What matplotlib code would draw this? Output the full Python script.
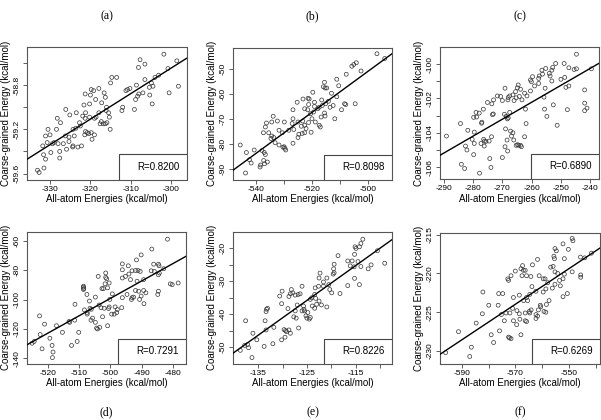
import matplotlib.pyplot as plt
import numpy as np
from matplotlib.patches import Rectangle

plt.rcParams['font.family'] = ['Liberation Sans', 'DejaVu Sans']

# (a)
a_x = [-301.8, -307.7, -298.6, -306.5, -308.1, -300.8, -314.7, -313.5, -315.0, -303.1,
       -304.0, -306.5, -308.6, -310.2, -310.8, -311.2, -304.9, -304.5, -305.4, -298.2,
       -300.5, -307.0, -308.0, -308.3, -305.3, -308.8, -304.7, -309.1, -312.0, -312.2,
       -319.8, -319.2, -317.9, -316.6, -316.3, -318.7, -321.3, -320.0, -321.6, -320.2,
       -317.2, -316.0, -316.1, -315.5, -315.3, -315.9, -315.1, -317.9, -318.6, -319.0,
       -320.2, -321.3, -321.2, -321.9, -323.5, -325.1, -326.1, -328.2, -327.4, -322.7,
       -322.5, -321.4, -320.8, -320.4, -319.8, -319.0, -319.6, -321.2, -317.3, -316.8,
       -316.3, -317.6, -324.3, -323.6, -330.5, -331.1, -330.0, -328.4, -326.2, -325.3,
       -324.0, -329.0, -328.0, -326.7, -325.3, -330.7, -329.4, -331.8, -324.3, -324.4,
       -323.1, -322.2, -325.9, -327.6, -329.8, -331.6, -331.1, -327.6, -333.1, -332.7,
       -331.5]
a_y = [-58.52, -58.57, -58.58, -58.61, -58.64, -58.65, -58.73, -58.73, -58.78, -58.71,
       -58.73, -58.75, -58.80, -58.83, -58.84, -58.85, -58.78, -58.81, -58.82, -58.81,
       -58.87, -58.87, -58.88, -58.90, -58.89, -58.93, -58.97, -59.02, -59.00, -59.03,
       -58.84, -58.85, -58.83, -58.87, -58.91, -58.93, -58.88, -58.89, -58.98, -58.97,
       -58.96, -59.00, -59.03, -59.05, -59.09, -59.14, -59.20, -59.05, -59.09, -59.10,
       -59.09, -59.10, -59.05, -59.08, -59.05, -59.07, -59.02, -59.10, -59.14, -59.14,
       -59.17, -59.25, -59.23, -59.24, -59.23, -59.25, -59.29, -59.22, -59.13, -59.15,
       -59.15, -59.15, -59.20, -59.19, -59.20, -59.26, -59.25, -59.20, -59.26, -59.27,
       -59.26, -59.32, -59.33, -59.33, -59.31, -59.32, -59.33, -59.35, -59.35, -59.36,
       -59.36, -59.35, -59.38, -59.40, -59.41, -59.43, -59.47, -59.46, -59.57, -59.59,
       -59.55]

# (b)
b_x = [-496.8, -494.0, -504.2, -505.1, -505.8, -502.5, -507.8, -511.2, -515.6, -516.0,
       -515.4, -514.8, -510.5, -513.1, -511.2, -519.8, -521.5, -521.1, -523.3, -516.6,
       -514.2, -515.2, -516.4, -517.5, -519.2, -518.0, -512.5, -513.6, -508.4, -508.0,
       -504.6, -509.5, -511.9, -515.6, -515.4, -516.8, -519.5, -520.6, -521.6, -525.4,
       -526.9, -522.7, -523.4, -525.1, -520.1, -522.7, -521.3, -518.9, -517.5, -517.1,
       -523.9, -528.4, -526.9, -527.2, -530.0, -532.5, -534.0, -534.5, -536.4, -536.8,
       -537.5, -535.6, -534.8, -533.8, -531.9, -530.7, -526.6, -523.6, -522.7, -520.4,
       -524.8, -525.1, -533.3, -531.9, -530.1, -529.8, -529.5, -526.9, -538.0, -540.8,
       -543.6, -545.8, -542.5, -541.9, -537.2, -536.8, -537.4, -537.1, -538.5, -538.7,
       -536.1, -543.9, -530.5, -534.5, -522.2, -521.3, -519.2]
b_y = [-43.9, -45.8, -47.5, -48.2, -48.9, -50.8, -52.1, -54.1, -55.3, -57.1,
       -57.6, -57.6, -56.7, -59.7, -61.1, -59.3, -61.7, -62.0, -62.0, -62.4,
       -62.9, -63.9, -64.6, -65.3, -65.0, -65.9, -64.6, -65.3, -63.9, -64.2,
       -63.9, -66.3, -69.9, -67.6, -68.8, -69.2, -67.2, -67.9, -66.3, -63.3,
       -66.3, -65.9, -70.8, -71.2, -69.9, -72.5, -71.4, -71.2, -72.5, -73.2,
       -72.9, -74.5, -69.9, -71.8, -71.2, -70.8, -68.9, -71.2, -71.6, -73.2,
       -75.5, -75.5, -77.8, -77.4, -74.5, -75.5, -74.2, -75.8, -75.5, -75.3,
       -76.1, -77.4, -79.5, -80.4, -81.1, -81.7, -82.4, -79.7, -82.6, -82.4,
       -83.4, -80.4, -86.3, -87.6, -83.4, -84.2, -86.6, -87.9, -88.4, -89.2,
       -87.2, -91.6, -81.3, -76.8, -73.8, -64.2, -63.3]

# (c)
c_x = [-244.7, -251.8, -252.8, -253.1, -255.2, -256.5, -256.3, -257.4, -257.6, -259.7,
       -260.1, -260.4, -257.6, -259.0, -260.4, -262.4, -263.8, -264.2, -264.6, -264.9,
       -265.5, -265.3, -269.1, -268.1, -268.0, -267.5, -266.4, -266.0, -261.6, -263.3,
       -262.1, -270.0, -270.6, -271.7, -273.0, -273.6, -275.1, -276.5, -279.0, -277.9,
       -278.8, -279.8, -277.0, -277.1, -273.4, -273.1, -269.3, -268.7, -268.0, -268.3,
       -267.5, -268.9, -266.4, -267.2, -266.9, -266.1, -265.3, -264.8, -263.5, -263.8,
       -264.4, -262.4, -261.9, -268.4, -269.1, -268.2, -270.0, -274.3, -273.9, -277.8,
       -273.7, -274.5, -275.6, -276.2, -276.1, -276.4, -277.3, -279.6, -280.3, -279.6,
       -281.8, -282.6, -282.1, -279.8, -284.3, -289.1, -284.0, -282.9, -248.9, -247.3,
       -245.5, -244.7, -248.7, -250.0, -248.3, -247.3, -253.7, -253.1, -255.4, -255.8,
       -255.6, -254.8, -252.6, -251.3, -247.8, -241.9, -241.9, -241.1, -241.9, -239.6,
       -254.0]
c_y = [-99.42, -99.96, -100.19, -100.35, -100.25, -100.35, -100.58, -100.69, -100.83, -100.73,
       -101.02, -100.92, -101.12, -101.27, -101.56, -101.69, -101.46, -101.88, -101.21, -101.38,
       -101.60, -101.96, -101.40, -102.08, -101.94, -101.85, -101.79, -102.12, -101.85, -102.08,
       -102.62, -102.12, -101.88, -101.85, -102.08, -102.31, -102.23, -102.62, -102.81, -102.85,
       -103.08, -103.10, -103.38, -103.44, -102.94, -102.90, -102.92, -103.04, -103.13, -103.19,
       -102.81, -103.77, -104.00, -103.90, -104.19, -104.42, -104.73, -104.69, -104.81, -104.73,
       -104.73, -104.23, -103.46, -104.42, -104.81, -105.06, -105.44, -105.50, -106.02, -106.35,
       -104.23, -104.48, -104.50, -104.77, -104.48, -104.38, -104.62, -104.62, -104.38, -103.96,
       -103.85, -104.77, -105.00, -105.27, -103.46, -104.19, -105.83, -106.08, -99.96, -100.21,
       -100.31, -100.27, -100.77, -100.88, -101.35, -101.27, -100.69, -100.98, -101.40, -101.92,
       -102.62, -103.04, -102.37, -103.56, -102.65, -101.50, -102.27, -102.56, -102.71, -100.27,
       -100.54]

# (d)
d_x = [-481.8, -486.8, -490.2, -491.7, -486.2, -484.7, -484.5, -496.2, -494.3, -496.2,
       -493.1, -492.0, -491.2, -490.5, -487.0, -486.0, -484.4, -483.0, -484.7, -489.4,
       -491.5, -494.1, -495.2, -496.2, -493.6, -501.5, -501.5, -501.2, -500.4, -501.7,
       -503.9, -502.7, -502.2, -500.9, -499.4, -504.8, -506.7, -507.5, -508.6, -508.6,
       -508.5, -508.6, -511.3, -508.3, -507.4, -503.6, -503.0, -502.0, -500.6, -500.4,
       -498.5, -497.8, -496.4, -498.0, -498.8, -499.6, -505.7, -506.2, -504.8, -504.4,
       -504.1, -503.4, -500.9, -502.5, -506.1, -496.2, -494.7, -492.0, -491.0, -490.2,
       -489.4, -488.7, -490.7, -493.1, -493.3, -492.6, -489.3, -484.7, -484.9, -480.9,
       -478.4, -480.3, -513.2, -513.0, -511.4, -517.2, -515.3, -510.1, -510.6, -512.4,
       -518.6, -518.3, -518.5, -521.8, -519.3, -522.4, -521.0, -522.6, -524.3, -525.0,
       -500.2, -506.5, -507.4]
d_y = [-58.9, -65.6, -69.6, -73.0, -75.9, -75.9, -77.0, -75.7, -77.0, -79.7,
       -80.4, -80.2, -80.2, -80.8, -80.4, -80.8, -81.9, -79.0, -83.1, -86.4,
       -87.5, -82.6, -84.2, -85.3, -86.4, -81.9, -84.9, -85.8, -88.7, -89.3,
       -84.2, -92.5, -92.5, -92.0, -96.1, -98.3, -101.0, -96.5, -90.9, -91.6,
       -92.5, -93.1, -103.2, -107.0, -108.8, -103.7, -105.5, -105.9, -106.1, -105.0,
       -105.0, -106.8, -105.5, -108.8, -109.9, -109.9, -112.6, -114.0, -115.5, -119.4,
       -120.0, -118.9, -117.8, -111.7, -106.6, -98.7, -96.5, -93.8, -94.3, -97.6,
       -93.8, -95.4, -99.9, -98.7, -99.9, -98.3, -102.8, -94.3, -96.5, -89.3,
       -88.7, -89.8, -114.9, -115.5, -114.0, -117.8, -122.3, -122.3, -128.5, -131.2,
       -131.2, -135.7, -139.5, -133.5, -126.3, -123.8, -116.7, -111.1, -128.5, -129.7,
       -99.9, -105.9, -109.9]

# (e)
e_x = [-113.5, -113.9, -115.1, -114.9, -114.2, -115.2, -116.6, -115.7, -114.5, -116.1,
       -115.3, -113.9, -118.6, -119.4, -119.5, -119.4, -119.6, -120.9, -122.3, -122.5,
       -121.6, -122.6, -121.6, -120.5, -120.3, -119.9, -123.3, -123.4, -124.0, -123.2,
       -122.5, -122.0, -120.9, -118.2, -116.6, -115.2, -114.2, -111.8, -112.4, -110.5,
       -109.0, -126.0, -126.4, -126.8, -127.4, -128.2, -127.9, -128.4, -128.7, -130.1,
       -130.6, -130.2, -128.9, -127.4, -127.7, -127.2, -126.0, -125.5, -125.7, -127.0,
       -124.8, -125.2, -125.0, -124.5, -124.3, -123.9, -123.4, -123.0, -124.3, -126.7,
       -129.7, -129.4, -129.2, -128.4, -129.5, -130.2, -131.8, -133.1, -133.3, -133.4,
       -133.6, -133.4, -133.8, -132.0, -135.3, -136.1, -137.6, -137.2, -137.0, -137.8,
       -138.7, -136.3, -128.7, -125.6]
e_y = [-17.2, -18.5, -19.5, -20.0, -19.5, -21.8, -23.8, -23.8, -24.0, -25.3,
       -25.6, -25.5, -22.2, -24.8, -26.2, -27.4, -27.8, -29.0, -27.5, -29.0,
       -30.2, -31.5, -31.5, -31.0, -32.5, -33.5, -32.0, -34.0, -35.0, -35.2,
       -36.0, -37.2, -37.8, -33.7, -31.3, -29.1, -31.0, -25.0, -26.2, -20.7,
       -24.5, -31.5, -33.8, -34.0, -34.2, -32.5, -33.5, -33.8, -34.6, -33.0,
       -34.5, -36.8, -38.3, -39.0, -40.8, -41.2, -39.0, -39.0, -37.5, -37.2,
       -39.5, -40.5, -41.2, -41.5, -41.0, -37.5, -38.2, -37.0, -35.5, -44.2,
       -44.7, -45.0, -45.3, -45.8, -47.0, -47.8, -44.0, -38.2, -38.5, -39.2,
       -42.0, -44.8, -49.8, -49.0, -47.8, -45.8, -42.0, -49.2, -50.2, -49.5,
       -51.0, -53.2, -44.8, -38.5]

# (f)
f_x = [-548.8, -548.5, -552.2, -550.2, -555.2, -554.7, -555.6, -555.4, -551.7, -561.7,
       -563.6, -567.3, -567.9, -567.0, -566.3, -570.0, -572.8, -572.5, -571.6, -567.5,
       -565.8, -564.2, -561.1, -559.6, -558.9, -557.9, -556.8, -555.9, -555.2, -554.2,
       -553.5, -555.2, -552.2, -551.7, -553.2, -550.6, -552.2, -556.2, -558.6, -559.6,
       -562.3, -563.8, -564.6, -565.4, -566.9, -568.5, -570.7, -571.0, -569.4, -568.5,
       -566.3, -564.8, -564.6, -564.1, -561.4, -560.7, -560.5, -559.3, -558.6, -562.3,
       -561.7, -562.3, -565.8, -566.3, -568.3, -569.5, -570.7, -572.0, -573.5, -575.2,
       -576.4, -579.9, -582.1, -576.2, -574.7, -582.3, -584.6, -579.0, -578.1, -575.9,
       -572.5, -572.2, -571.6, -567.9, -591.2, -586.4, -587.0, -596.0, -545.7, -545.6,
       -545.6, -544.1, -541.6, -548.8, -557.4, -558.4, -574.1, -565.8]
f_y = [-215.5, -215.8, -216.2, -216.9, -216.8, -217.1, -217.8, -218.1, -218.1, -218.2,
       -218.9, -219.0, -219.4, -219.6, -219.6, -219.7, -220.7, -220.9, -220.3, -220.3,
       -220.3, -220.4, -220.3, -220.7, -220.7, -221.2, -219.2, -219.1, -219.8, -220.0,
       -220.9, -221.4, -220.7, -220.1, -221.6, -222.6, -223.0, -221.9, -222.0, -222.4,
       -222.3, -221.7, -222.7, -223.5, -223.5, -222.8, -223.1, -224.5, -224.8, -225.2,
       -225.1, -224.9, -225.1, -224.7, -224.7, -224.1, -224.3, -224.9, -225.0, -225.3,
       -225.5, -225.8, -226.2, -226.1, -225.9, -226.6, -226.1, -225.1, -225.1, -225.3,
       -224.1, -224.1, -222.4, -222.6, -222.6, -225.2, -226.4, -227.9, -228.9, -227.4,
       -228.2, -228.3, -228.4, -227.9, -227.5, -229.5, -230.7, -230.2, -217.9, -220.2,
       -220.5, -218.0, -217.4, -219.8, -223.5, -224.0, -226.1, -223.1]

r_values = ["R=0.8200", "R=0.8098", "R=0.6890", "R=0.7291", "R=0.8226", "R=0.6269"]
letters = ["(a)", "(b)", "(c)", "(d)", "(e)", "(f)"]

W, H = 601, 420
fig = plt.figure(figsize=(W / 100, H / 100), dpi=100)


def panel(box, x, y, xlim, ylim, xt, xl, yt, yl, rtext, letter, letter_y):
    left, top, right, bottom = box
    ax = fig.add_axes([left / W, 1 - bottom / H, (right - left) / W, (bottom - top) / H])
    ax.scatter(x, y, s=8, facecolors='none', edgecolors='#333333', linewidths=0.5, zorder=2)
    # regression line over the whole plot width
    k, c = np.polyfit(x, y, 1)
    xs = np.array(xlim)
    ax.plot(xs, k * xs + c, color='black', lw=1.0, zorder=3)
    ax.set_xlim(xlim)
    ax.set_ylim(ylim)
    ax.set_xticks(xt)
    ax.set_xticklabels(xl)
    ax.set_yticks(yt)
    ax.set_yticklabels(yl, rotation=90, va='center')
    ax.tick_params(direction='out', length=3, width=0.6, color='#444444',
                   labelsize=6, pad=1.5)
    for s in ax.spines.values():
        s.set_color('#555555')
        s.set_linewidth(0.8)
    ax.set_xlabel('All-atom Energies (kcal/mol)', fontsize=7, labelpad=1)
    ax.set_ylabel('Coarse-grained Energy (kcal/mol)', fontsize=7, labelpad=2)
    ax.add_patch(Rectangle((0.574, 0), 0.426, 0.19, transform=ax.transAxes,
                           facecolor='white', edgecolor='#444444', lw=0.8, zorder=4))
    ax.text(0.955, 0.095, rtext, transform=ax.transAxes, ha='right', va='center',
            fontsize=7, zorder=5)
    fig.text((left + right) / 2 / W, 1 - letter_y / H, letter, ha='center', va='center',
             family='Liberation Serif', fontsize=8.5)


panel((27, 47, 186.5, 179.5), a_x, a_y, (-335.7, -296.2), (-59.654, -58.455),
      [-330, -320, -310, -300], ['-330', '-320', '-310', '-300'],
      [-58.6, -58.8, -59.0, -59.2, -59.4, -59.6], ['', '-58.8', '', '-59.2', '', '-59.6'],
      r_values[0], letters[0], 16)

panel((233, 48, 392, 179.5), b_x, b_y, (-548.4, -491.4), (-94.2, -41.6),
      [-540, -530, -520, -510, -500], ['-540', '', '-520', '', '-500'],
      [-50, -60, -70, -80, -90], ['-50', '-60', '-70', '-80', '-90'],
      r_values[1], letters[1], 16)

panel((440, 47, 599, 179), c_x, c_y, (-291.3, -237.0), (-106.69, -99.0),
      [-290, -280, -270, -260, -250, -240], ['-290', '-280', '-270', '-260', '-250', '-240'],
      [-100, -101, -102, -103, -104, -105, -106], ['-100', '', '-102', '', '-104', '', '-106'],
      r_values[2], letters[2], 16)

panel((27, 232, 186, 363.5), d_x, d_y, (-526.6, -475.9), (-143.5, -54.0),
      [-520, -510, -500, -490, -480], ['-520', '-510', '-500', '-490', '-480'],
      [-60, -80, -100, -120, -140], ['-60', '-80', '-100', '-120', '-140'],
      r_values[3], letters[3], 412)

panel((233, 232, 392, 363.5), e_x, e_y, (-140.2, -107.5), (-55, -15),
      [-135, -130, -125, -120, -115, -110], ['-135', '', '-125', '', '-115', ''],
      [-20, -25, -30, -35, -40, -45, -50], ['-20', '', '-30', '', '-40', '', '-50'],
      r_values[4], letters[4], 412)

panel((440, 233, 600, 363.5), f_x, f_y, (-598.1, -538.4), (-231.6, -214.8),
      [-590, -580, -570, -560, -550, -540], ['-590', '', '-570', '', '-550', ''],
      [-215, -220, -225, -230], ['-215', '-220', '-225', '-230'],
      r_values[5], letters[5], 412)

plt.savefig('out.png', dpi=100)
